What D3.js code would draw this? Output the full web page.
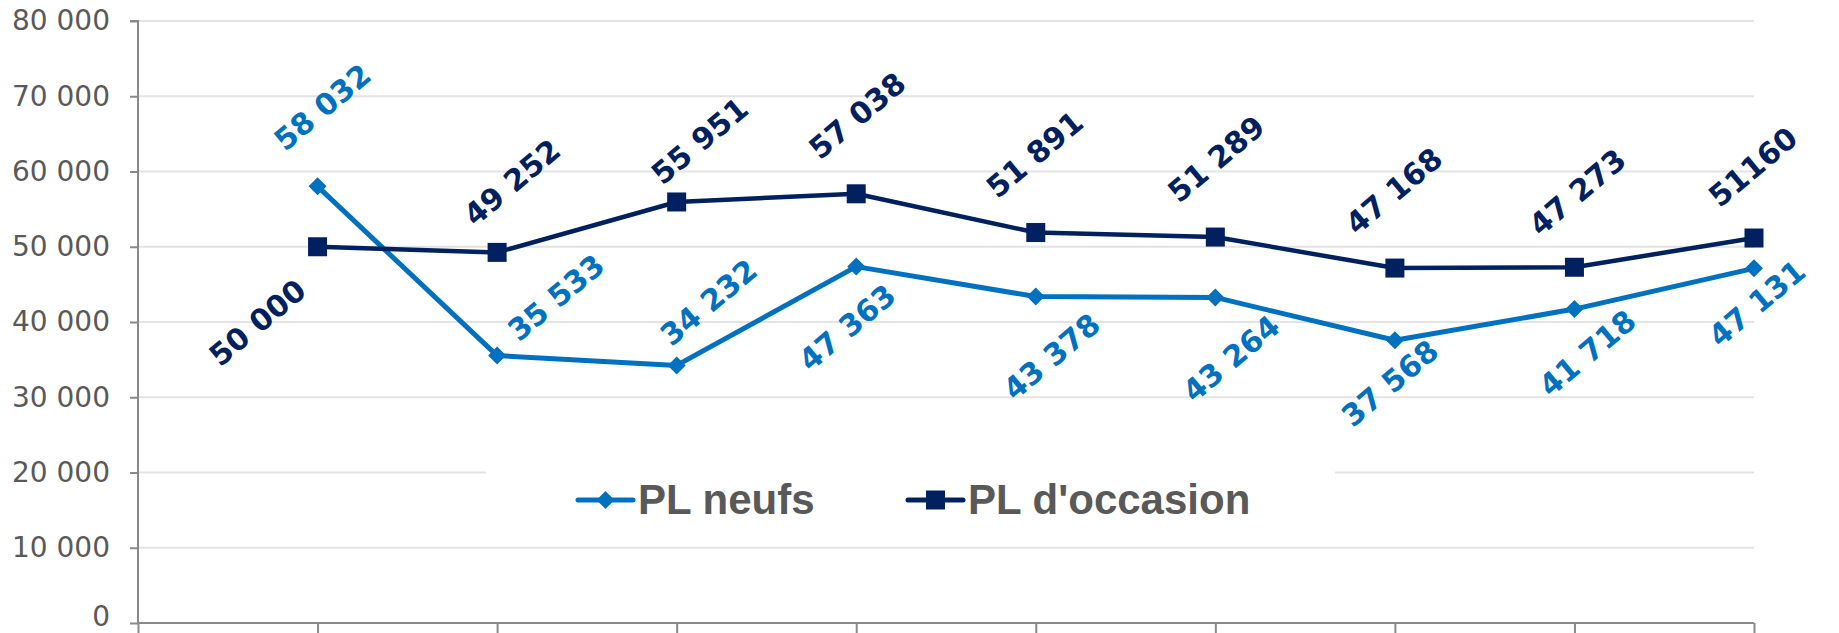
<!DOCTYPE html>
<html><head><meta charset="utf-8">
<script src="https://cdn.jsdelivr.net/npm/d3@7"></script>
<style>body{margin:0;background:#fff;overflow:hidden}</style>
</head><body><svg id="c" width="1839" height="633"></svg>
<script>
const categories = ["p1","p2","p3","p4","p5","p6","p7","p8","p9"];
const seriesNames = ["PL neufs", "PL d'occasion"];
const plNeufs = [58032, 35533, 34232, 47363, 43378, 43264, 37568, 41718, 47131];
const plOccasion = [50000, 49252, 55951, 57038, 51891, 51289, 47168, 47273, 51160];
const neufsLabels = ["58 032","35 533","34 232","47 363","43 378","43 264","37 568","41 718","47 131"];
const occasionLabels = ["50 000","49 252","55 951","57 038","51 891","51 289","47 168","47 273","51160"];
const yTickValues = [0,10000,20000,30000,40000,50000,60000,70000,80000];
const yTickLabels = ["0","10 000","20 000","30 000","40 000","50 000","60 000","70 000","80 000"];

// layout (not data)
const neufsLabelOffsets = [[5,-79],[59,-58],[32,-63],[-9,61],[16,60],[16,61],[-5,43],[13,44],[3,35]];
const occLabelOffsets = [[-60,76],[15,-70],[23,-61],[1,-78],[-1,-78],[1,-78],[-1,-77],[3,-75],[-1,-71]];

const svg = d3.select("#c");
const M = {left: 138, right: 1754, top: 21, bottom: 623};
const x = d3.scalePoint().domain([""].concat(categories)).range([M.left, M.right]);
const y = d3.scaleLinear().domain([0, 80000]).range([M.bottom, M.top]);

const blue = "#0070C0", navy = "#002060", axisCol = "#898989", gridCol = "#e3e3e3", txt = "#595959";

// gridlines
svg.append("g").selectAll("line").data(yTickValues.filter(v => v > 0)).join("line")
  .attr("x1", M.left).attr("x2", M.right).attr("y1", d => y(d)).attr("y2", d => y(d))
  .attr("stroke", gridCol).attr("stroke-width", 2);

// legend background box (covers gridlines)
svg.append("rect").attr("x", 486).attr("y", 456).attr("width", 849).attr("height", 82).attr("fill", "#fff");

// y axis
const yAxis = svg.append("g").attr("transform", `translate(${M.left},0)`)
  .call(d3.axisLeft(y).tickValues(yTickValues).tickSize(8).tickPadding(20)
    .tickFormat((d, i) => yTickLabels[i]));
yAxis.select(".domain").attr("stroke", axisCol).attr("stroke-width", 2).attr("d", `M-8,${M.top}H0V${M.bottom}`);
yAxis.selectAll(".tick line").attr("stroke", axisCol).attr("stroke-width", 2);
yAxis.selectAll(".tick text").attr("font-family", "DejaVu Sans").attr("font-size", 28).attr("fill", txt)
  .attr("dy", d => d === 0 ? "0.1em" : "0.32em");

// x axis
const xAxis = svg.append("g").attr("transform", `translate(0,${M.bottom})`)
  .call(d3.axisBottom(x).tickSize(12).tickFormat(""));
xAxis.select(".domain").attr("stroke", axisCol).attr("stroke-width", 2).attr("d", `M${M.left},0H${M.right}`);
xAxis.selectAll(".tick line").attr("stroke", axisCol).attr("stroke-width", 2);

const line = d3.line().x((d, i) => x(categories[i])).y(d => y(d));

function drawSeries(vals, color, width, marker, labels, offsets) {
  svg.append("path").datum(vals).attr("d", line).attr("fill", "none")
    .attr("stroke", color).attr("stroke-width", width).attr("stroke-linejoin", "round");
  const g = svg.append("g");
  if (marker === "diamond") {
    g.selectAll("path").data(vals).join("path")
      .attr("d", "M0,-9L9,0L0,9L-9,0Z")
      .attr("transform", (d, i) => `translate(${x(categories[i])},${y(d)})`)
      .attr("fill", color);
  } else {
    g.selectAll("rect").data(vals).join("rect")
      .attr("x", (d, i) => x(categories[i]) - 9.5).attr("y", d => y(d) - 9.5)
      .attr("width", 19).attr("height", 19).attr("fill", color);
  }
  svg.append("g").selectAll("text").data(vals).join("text")
    .attr("transform", (d, i) => `translate(${x(categories[i]) + offsets[i][0]},${y(d) + offsets[i][1]}) rotate(-40)`)
    .attr("text-anchor", "middle").attr("dominant-baseline", "central")
    .attr("font-family", "DejaVu Sans").attr("font-weight", "bold").attr("font-size", 30)
    .attr("fill", color).text((d, i) => labels[i]);
}
drawSeries(plNeufs, blue, 5, "diamond", neufsLabels, neufsLabelOffsets);
drawSeries(plOccasion, navy, 4.5, "square", occasionLabels, occLabelOffsets);

// legend
const legendItems = [
  {name: seriesNames[0], color: blue, marker: "diamond", x: 578},
  {name: seriesNames[1], color: navy, marker: "square", x: 908}
];
const lg = svg.append("g");
legendItems.forEach(it => {
  const ly = 500;
  lg.append("line").attr("x1", it.x).attr("x2", it.x + 55).attr("y1", ly).attr("y2", ly)
    .attr("stroke", it.color).attr("stroke-width", 5).attr("stroke-linecap", "round");
  if (it.marker === "diamond") {
    lg.append("path").attr("d", "M0,-9L9,0L0,9L-9,0Z").attr("transform", `translate(${it.x + 27.5},${ly})`).attr("fill", it.color);
  } else {
    lg.append("rect").attr("x", it.x + 27.5 - 9.5).attr("y", ly - 9.5).attr("width", 19).attr("height", 19).attr("fill", it.color);
  }
  lg.append("text").attr("x", it.x + 60).attr("y", 514)
    .attr("font-family", "Liberation Sans, Arial, sans-serif").attr("font-weight", "bold").attr("font-size", 42)
    .attr("fill", txt).text(it.name);
});
</script></body></html>
